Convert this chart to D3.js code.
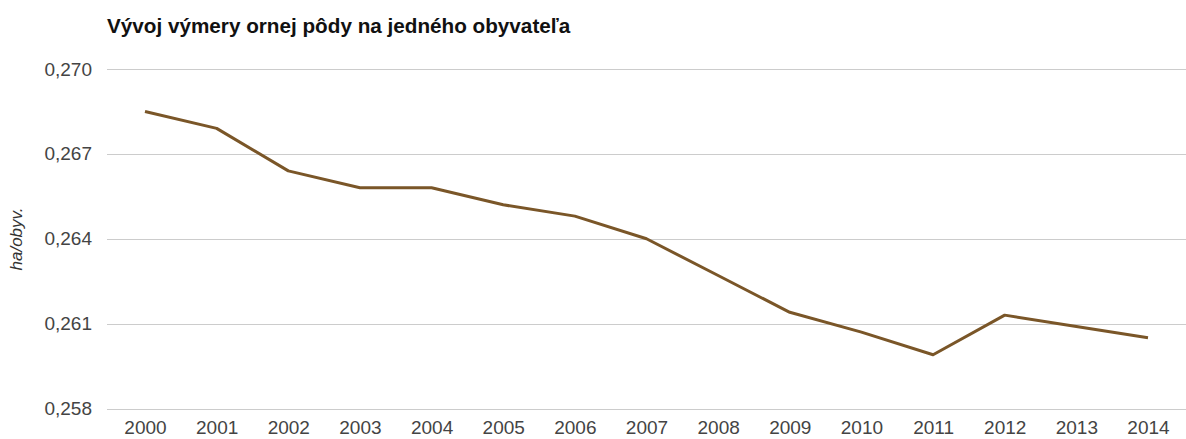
<!DOCTYPE html>
<html>
<head>
<meta charset="utf-8">
<script src="https://cdn.jsdelivr.net/npm/d3@7"></script>
<style>
  html, body { margin: 0; padding: 0; background: #fff; }
  svg { display: block; font-family: "Liberation Sans", Arial, sans-serif; }
</style>
</head>
<body>
<svg id="chart" width="1186" height="439"></svg>
<script>
// Arable land area per inhabitant (ha per person), 2000–2014
const years = [2000, 2001, 2002, 2003, 2004, 2005, 2006, 2007, 2008, 2009, 2010, 2011, 2012, 2013, 2014];
const values = [0.2685, 0.2679, 0.2664, 0.2658, 0.2658, 0.2652, 0.2648, 0.2640, 0.2627, 0.2614, 0.2607, 0.2599, 0.2613, 0.2609, 0.2605];
const yTicks = [0.258, 0.261, 0.264, 0.267, 0.270];

const title = "Vývoj výmery ornej pôdy na jedného obyvateľa";
const yTitle = "ha/obyv.";

const svg = d3.select("#chart");
const W = 1186;

const x = d3.scalePoint()
  .domain(years)
  .range([145, 1148]);

const y = d3.scaleLinear()
  .domain([0.258, 0.270])
  .range([408.5, 69]);

const fmt = v => d3.format(".3f")(v).replace(".", ",");

// horizontal gridlines
svg.append("g")
  .selectAll("line")
  .data(yTicks)
  .join("line")
  .attr("x1", 107)
  .attr("x2", W)
  .attr("y1", d => Math.round(y(d)) + 0.5)
  .attr("y2", d => Math.round(y(d)) + 0.5)
  .attr("stroke", "#cccccc")
  .attr("stroke-width", 1);

// y axis labels
const yAxis = d3.axisLeft(y).tickValues(yTicks).tickFormat(fmt).tickSize(0).tickPadding(0);
svg.append("g")
  .attr("transform", "translate(92,0)")
  .call(yAxis)
  .call(g => g.select(".domain").remove())
  .call(g => g.selectAll("text")
    .attr("fill", "#444")
    .style("font-size", "19px")
    .style("font-family", "Liberation Sans, Arial, sans-serif"));

// x axis labels
const xAxis = d3.axisBottom(x).tickSize(0).tickPadding(0);
svg.append("g")
  .attr("transform", "translate(0,420)")
  .call(xAxis)
  .call(g => g.select(".domain").remove())
  .call(g => g.selectAll("text")
    .attr("fill", "#444")
    .style("font-size", "19px")
    .style("font-family", "Liberation Sans, Arial, sans-serif"));

// data line
const line = d3.line()
  .x((d, i) => x(years[i]))
  .y(d => y(d));

svg.append("path")
  .datum(values)
  .attr("d", line)
  .attr("fill", "none")
  .attr("stroke", "#7a5628")
  .attr("stroke-width", 3)
  .attr("stroke-linejoin", "round");

// title
svg.append("text")
  .attr("x", 107)
  .attr("y", 33)
  .attr("fill", "#111")
  .style("font-size", "20.7px")
  .style("font-weight", "bold")
  .text(title);

// y axis title
svg.append("text")
  .attr("transform", "translate(22,239) rotate(-90)")
  .attr("text-anchor", "middle")
  .attr("fill", "#333")
  .style("font-size", "17px")
  .style("font-style", "italic")
  .text(yTitle);
</script>
</body>
</html>
